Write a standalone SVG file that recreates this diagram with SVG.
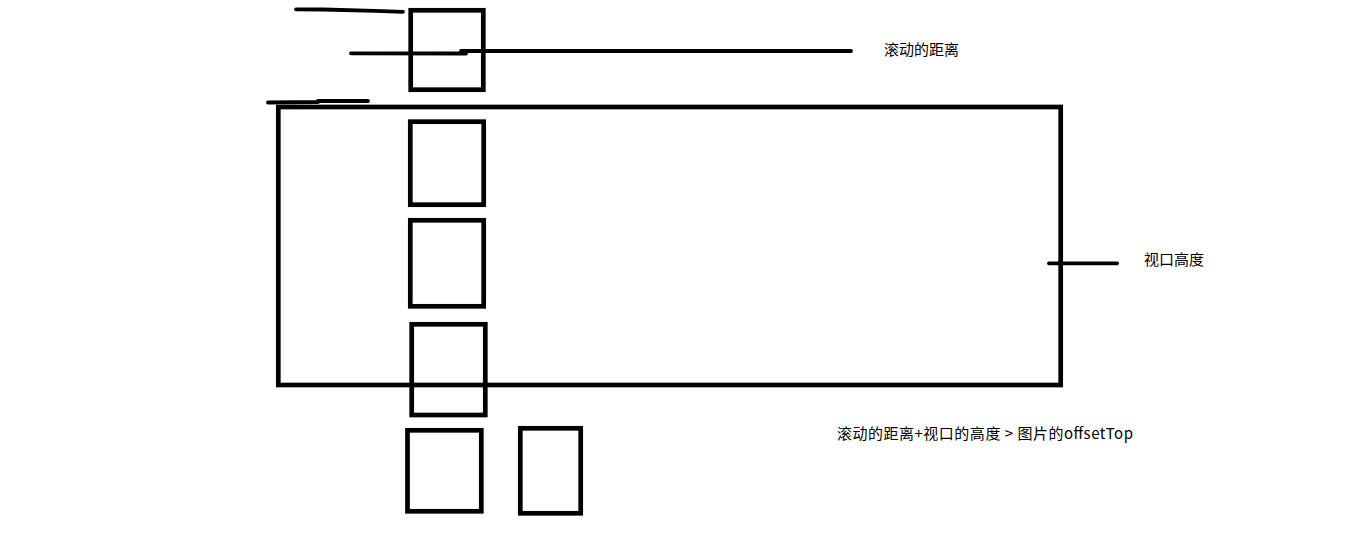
<svg xmlns="http://www.w3.org/2000/svg" width="1354" height="546" viewBox="0 0 1354 546">
<style>
.box{fill:none;stroke:#000;stroke-width:4.7}
.ln{fill:none;stroke:#000;stroke-width:3.8;stroke-linecap:round}
.lbl{font-family:"Noto Sans CJK SC","Noto Sans",sans-serif;font-size:15px;fill:#000}
</style>
<rect width="1354" height="546" fill="#fff"/>
<g id="viewport"><rect class="box" x="278.3" y="107" width="782.4" height="278"/></g>
<g id="img1"><rect class="box" x="410.7" y="10.3" width="72.6" height="79.4"/></g>
<g id="img2"><rect class="box" x="410.3" y="121.7" width="73.4" height="83"/></g>
<g id="img3"><rect class="box" x="410.3" y="220.3" width="73.4" height="86"/></g>
<g id="img4"><rect class="box" x="411.7" y="324.3" width="73.6" height="90.7"/></g>
<g id="img5"><rect class="box" x="407.5" y="430.3" width="73.8" height="81"/></g>
<g id="img6"><rect class="box" x="520.3" y="428.3" width="60.4" height="85"/></g>
<g id="connectors">
<path class="ln" d="M296 9.3 L323 9.5 L375 10.8 L403 11.8"/>
<path class="ln" d="M351 53.3 L466 53.5"/>
<path class="ln" d="M461 51 L851 51"/>
<path class="ln" d="M268 102.5 L318 102 M318 101 L368 101"/>
<path class="ln" d="M1049 263.3 L1117 263.3"/>
</g>
<g id="labels">
<text class="lbl" x="884" y="55">滚动的距离</text>
<text class="lbl" x="1144" y="265">视口高度</text>
<text class="lbl" x="837" y="439" textLength="296" lengthAdjust="spacing">滚动的距离+视口的高度 &gt; 图片的offsetTop</text>
</g>
</svg>
